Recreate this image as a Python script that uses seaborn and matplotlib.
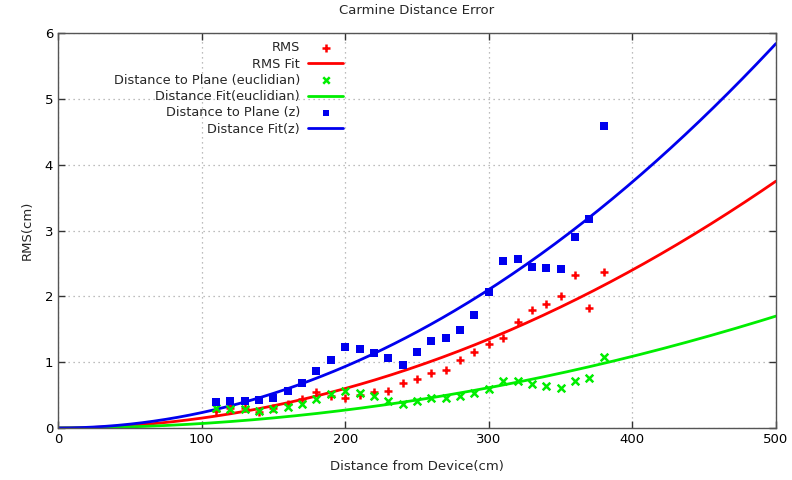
import numpy as np
import pandas as pd
import matplotlib
matplotlib.use("Agg")
import matplotlib.pyplot as plt
import seaborn as sns

# ---- data ----
distance = [110, 120, 130, 140, 150, 160, 170, 180, 190, 200,
            210, 220, 230, 240, 250, 260, 270, 280, 290, 300,
            310, 320, 330, 340, 350, 360, 370, 380]
rms = [0.26, 0.30, 0.30, 0.25, 0.30, 0.36, 0.44, 0.54, 0.49, 0.45,
       0.50, 0.54, 0.56, 0.68, 0.74, 0.83, 0.88, 1.04, 1.15, 1.27,
       1.37, 1.61, 1.79, 1.89, 2.00, 2.32, 1.83, 2.37]
dist_euclid = [0.31, 0.29, 0.29, 0.26, 0.29, 0.32, 0.36, 0.44, 0.51, 0.56,
               0.53, 0.48, 0.41, 0.36, 0.41, 0.46, 0.46, 0.48, 0.53, 0.60,
               0.72, 0.72, 0.67, 0.64, 0.61, 0.72, 0.76, 1.08]
dist_z = [0.39, 0.41, 0.41, 0.42, 0.46, 0.56, 0.68, 0.87, 1.04, 1.23,
          1.20, 1.14, 1.07, 0.95, 1.15, 1.32, 1.37, 1.49, 1.72, 2.06,
          2.54, 2.56, 2.45, 2.43, 2.41, 2.90, 3.17, 4.59]
# quadratic fit coefficients  f(x) = a * x^2
fit_rms_a = 1.50e-5
fit_euclid_a = 6.8e-6
fit_z_a = 2.336e-5

x_ticks = [0, 100, 200, 300, 400, 500]
y_ticks = [0, 1, 2, 3, 4, 5, 6]

sns.set_theme(style="ticks")
plt.rcParams['font.family'] = ['DejaVu Sans']
plt.rcParams['font.size'] = 9.5

fig = plt.figure(figsize=(7.92, 4.80), dpi=100)
ax = fig.add_axes([58 / 792, 52 / 480, 718 / 792, 395 / 480])

xf = np.linspace(0, 500, 300)
fits = pd.DataFrame({
    "x": xf,
    "rms": fit_rms_a * xf ** 2,
    "euc": fit_euclid_a * xf ** 2,
    "z": fit_z_a * xf ** 2,
})
pts = pd.DataFrame({"d": distance, "rms": rms, "euc": dist_euclid, "z": dist_z})

red, green, blue = "#ff0000", "#00ee00", "#0000ee"

sns.scatterplot(data=pts, x="d", y="rms", ax=ax, marker="+", s=40,
                color=red, linewidth=1.8, label="RMS", zorder=3)
sns.lineplot(data=fits, x="x", y="rms", ax=ax, color=red, linewidth=2,
             label="RMS Fit", zorder=2)
sns.scatterplot(data=pts, x="d", y="euc", ax=ax, marker="x", s=30,
                color=green, linewidth=1.8, label="Distance to Plane (euclidian)", zorder=3)
sns.lineplot(data=fits, x="x", y="euc", ax=ax, color=green, linewidth=2,
             label="Distance Fit(euclidian)", zorder=2)
sns.scatterplot(data=pts, x="d", y="z", ax=ax, marker="s", s=26,
                color=blue, edgecolor=blue, linewidth=0, label="Distance to Plane (z)", zorder=3)
sns.lineplot(data=fits, x="x", y="z", ax=ax, color=blue, linewidth=2,
             label="Distance Fit(z)", zorder=2)

ax.set_xlim(0, 500)
ax.set_ylim(0, 6)
ax.set_xticks(x_ticks)
ax.set_yticks(y_ticks)
ax.tick_params(direction="in", top=True, right=True, length=5, width=1,
               colors="#333333", labelcolor="black", labelsize=9.5)
for sp in ax.spines.values():
    sp.set_visible(True)
    sp.set_color("#555555")
    sp.set_linewidth(1)
ax.grid(True, linestyle=(0, (1, 3)), color="#a8a8a8", linewidth=0.9)

ax.set_title("Carmine Distance Error", fontsize=9.5, pad=14)
ax.set_xlabel("Distance from Device(cm)", fontsize=9.5, labelpad=10)
ax.set_ylabel("RMS(cm)", fontsize=9.5, labelpad=8)

leg = ax.legend(loc="upper right", bbox_to_anchor=(0.409, 1.0), markerfirst=False,
                frameon=False, prop={"size": 9.3}, handlelength=2.75, labelspacing=0.25,
                borderaxespad=0.25, handletextpad=0.6, markerscale=0.85)

fig.savefig("out.png", dpi=100)
